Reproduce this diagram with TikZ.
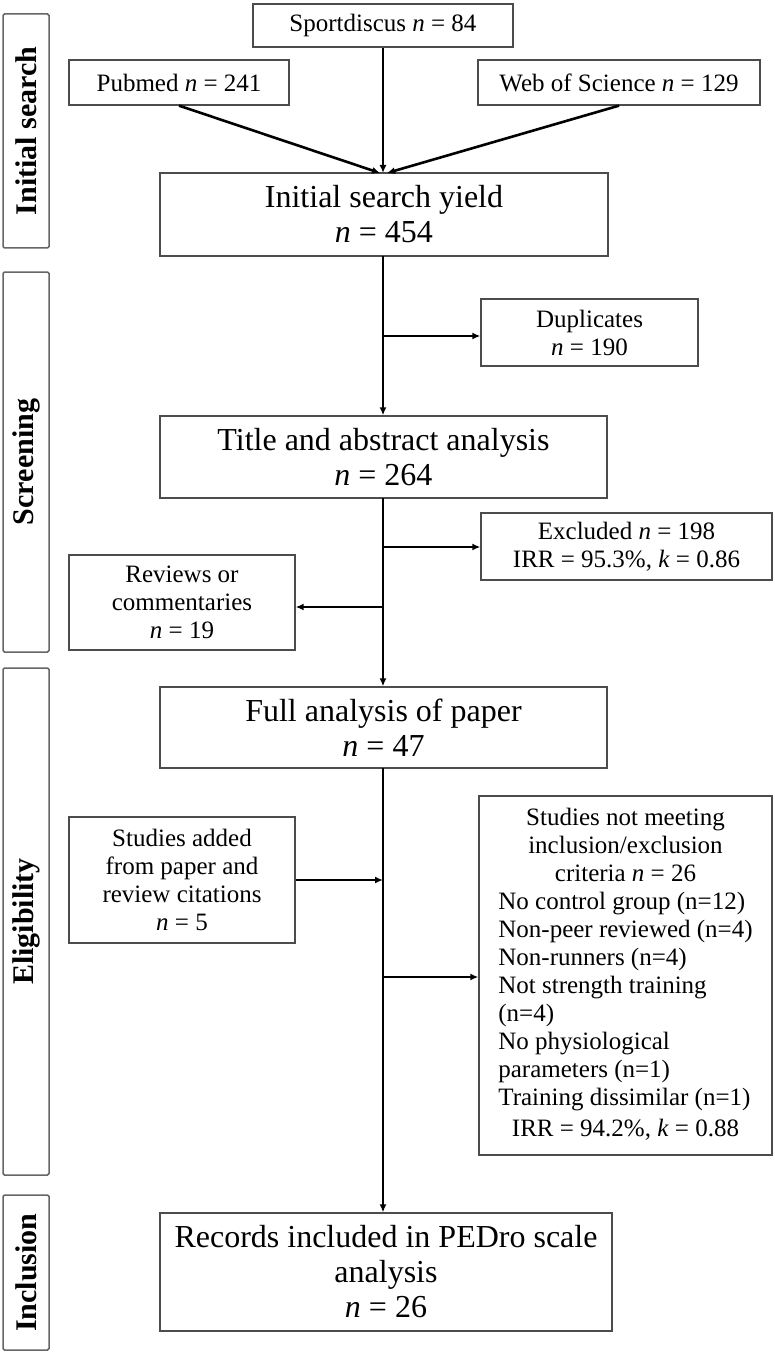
\documentclass[tikz,border=0pt]{standalone}
\usepackage{fontspec}
\setmainfont{Liberation Serif}
\usetikzlibrary{arrows.meta}
\begin{document}
\begin{tikzpicture}[x=1pt,y=-1pt,
  box/.style={draw=black!70, line width=1.3pt, fill=white, inner sep=0pt, align=center,
    font=\fontsize{25}{28}\selectfont},
  bigbox/.style={box, font=\fontsize{32}{35}\selectfont},
  side/.style={draw=black!60, line width=1.5pt, rounded corners=1.5pt, inner sep=0pt,
    rotate=90, font=\fontsize{30}{30}\selectfont\bfseries},
  conn/.style={line width=2.6pt, black},
  arr/.style={conn, -{Latex[length=8pt,width=7pt]}}]
\useasboundingbox (0,0) rectangle (774,1356);

% side labels
\node[side, minimum width=234pt, minimum height=46pt] (s1) at (26,131) {Initial search};
\node[side, minimum width=380pt, minimum height=46pt] (s2) at (26,462) {Screening};
\node[side, minimum width=507pt, minimum height=46pt] (s3) at (26,921.5) {Eligibility};
\node[side, minimum width=155pt, minimum height=46pt] (s4) at (26,1272.5) {Inclusion};

% boxes
\node[box, minimum width=260pt, minimum height=43pt] (sport) at (383,25.5) {Sportdiscus \textit{n} = 84};
\node[box, minimum width=220pt, minimum height=45pt] (pub) at (179,82.5) {Pubmed \textit{n} = 241};
\node[box, minimum width=282pt, minimum height=45pt] (wos) at (619,82.5) {Web of Science \textit{n} = 129};
\node[bigbox, minimum width=448pt, minimum height=83pt] (isy) at (384,214.5) {Initial search yield\\\textit{n} = 454};
\node[box, minimum width=217pt, minimum height=67pt] (dup) at (589.5,332.5) {Duplicates\\\textit{n} = 190};
\node[bigbox, minimum width=447pt, minimum height=82pt] (tab) at (383.5,457) {Title and abstract analysis\\\textit{n} = 264};
\node[box, minimum width=291pt, minimum height=67pt] (excl) at (626.5,546.5) {Excluded \textit{n} = 198\\IRR = 95.3\%, \textit{k} = 0.86};
\node[box, minimum width=226pt, minimum height=95pt] (rev) at (182,602.5) {Reviews or\\commentaries\\\textit{n} = 19};
\node[bigbox, minimum width=447pt, minimum height=81pt] (full) at (383.5,727.5) {Full analysis of paper\\\textit{n} = 47};
\node[box, minimum width=226pt, minimum height=126pt] (added) at (182,880) {Studies added\\from paper and\\review citations\\\textit{n} = 5};
\node[box, minimum width=293pt, minimum height=359pt] (notmeet) at (625.5,975.5) {%
\begin{tabular}{@{}l@{}}
\multicolumn{1}{@{}c@{}}{Studies not meeting}\\
\multicolumn{1}{@{}c@{}}{inclusion/exclusion}\\
\multicolumn{1}{@{}c@{}}{criteria \textit{n} = 26}\\
No control group (n=12)\\
Non-peer reviewed (n=4)\\
Non-runners (n=4)\\
Not strength training\\
(n=4)\\
No physiological\\
parameters (n=1)\\
Training dissimilar (n=1)\\[3pt]
\multicolumn{1}{@{}c@{}}{IRR = 94.2\%, \textit{k} = 0.88}
\end{tabular}};
\node[bigbox, minimum width=452pt, minimum height=118pt] (rec) at (386,1272) {Records included in PEDro scale\\analysis\\\textit{n} = 26};

% connectors
\coordinate (mL) at (380,173);
\coordinate (mM) at (383,173);
\coordinate (mR) at (387,173);
\draw[arr] (pub.south) -- (mL);
\draw[arr] (sport.south) -- (mM);
\draw[arr] (wos.south) -- (mR);

\coordinate (sp1) at (383,256);
\draw[arr] (sp1) -- (sp1 |- tab.north);
\coordinate (j1) at (383,336);
\draw[arr] (j1) -- (j1 -| dup.west);

\coordinate (sp2) at (383,498);
\draw[arr] (sp2) -- (sp2 |- full.north);
\coordinate (j2) at (383,547);
\draw[arr] (j2) -- (j2 -| excl.west);
\coordinate (j3) at (383,607);
\draw[arr] (j3) -- (j3 -| rev.east);

\coordinate (sp3) at (383,768);
\draw[arr] (sp3) -- (sp3 |- rec.north);
\draw[arr] (added.east) -- (added.east -| sp3);
\coordinate (j4) at (383,977);
\draw[arr] (j4) -- (j4 -| notmeet.west);
\end{tikzpicture}
\end{document}
